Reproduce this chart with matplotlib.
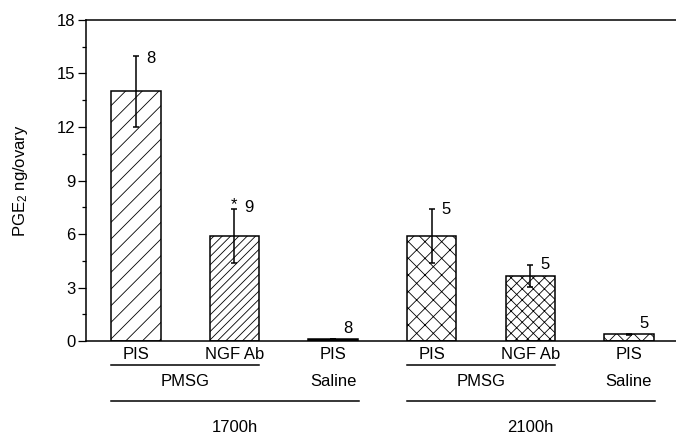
import matplotlib
matplotlib.use("Agg")
import matplotlib.pyplot as plt

plt.rcParams['font.family'] = ['Liberation Sans', 'DejaVu Sans']
plt.rcParams['hatch.linewidth'] = 0.6
plt.rcParams['mathtext.fontset'] = 'custom'
plt.rcParams['mathtext.rm'] = 'Liberation Sans'
plt.rcParams['mathtext.it'] = 'Liberation Sans'

# data
treatments = ["PIS", "NGF Ab", "PIS", "PIS", "NGF Ab", "PIS"]
pge2 = [14.0, 5.9, 0.1, 5.9, 3.65, 0.38]
sem = [2.0, 1.5, 0.0, 1.5, 0.62, 0.04]
n_animals = ["8", "9", "8", "5", "5", "5"]
stars = ["", "*", "", "", "", ""]
groups = ["PMSG", "Saline", "PMSG", "Saline"]
times = ["1700h", "2100h"]

hatches = ['//', '////', '', 'xx', 'xxx', 'xx']
faces = ['white', 'white', 'black', 'white', 'white', 'white']
xpos = list(range(len(pge2)))

fig = plt.figure(figsize=(6.76, 4.34), dpi=100)
ax = fig.add_axes([0.127, 0.214, 0.873, 0.740])

bars = ax.bar(xpos, pge2, width=0.5, color=faces, edgecolor='black', linewidth=1.1)
for b, h in zip(bars, hatches):
    b.set_hatch(h)
ax.errorbar(xpos, pge2, yerr=sem, fmt='none', ecolor='black', elinewidth=1.1,
            capsize=2.2, capthick=1.1)

# sample size labels
dy = [-2, 1, 8, 0, 0, 7]
for i in xpos:
    top = pge2[i] + sem[i]
    ax.annotate(n_animals[i], (i, top), xytext=(10.5, dy[i]), textcoords='offset points',
                ha='center', va='center', fontsize=12)
    if stars[i]:
        ax.annotate(stars[i], (i, top), xytext=(0, 3), textcoords='offset points',
                    ha='center', va='center', fontsize=12)

ax.set_xlim(-0.507, 5.477)
ax.set_ylim(0, 18)
ax.set_yticks(range(0, 19, 3))
ax.set_yticks([1.5 + 3 * k for k in range(6)], minor=True)
ax.tick_params(axis='y', which='major', length=6, width=0.9, labelsize=12, pad=1.5)
ax.tick_params(axis='y', which='minor', length=3, width=0.9)
ax.set_xticks(xpos)
ax.set_xticklabels(treatments, fontsize=12)
ax.tick_params(axis='x', length=0, pad=4)

ax.spines['right'].set_visible(False)
for s in ['left', 'bottom', 'top']:
    ax.spines[s].set_linewidth(1.1)

ax.set_ylabel('PGE$_2$ ng/ovary', fontsize=12)
ax.yaxis.set_label_coords(-0.095, 0.5)

# grouping lines and labels below the axis
tr = ax.get_xaxis_transform()
for g in range(2):
    a = 3 * g
    ax.plot([a - 0.25, a + 1.25], [-0.075, -0.075], color='black', lw=1.1,
            transform=tr, clip_on=False)
    ax.text(a + 0.5, -0.125, groups[2 * g], transform=tr, ha='center', va='center', fontsize=12)
    ax.text(a + 2, -0.125, groups[2 * g + 1], transform=tr, ha='center', va='center', fontsize=12)
    ax.plot([a - 0.25, a + 2.26], [-0.187, -0.187], color='black', lw=1.1,
            transform=tr, clip_on=False)
    ax.text(a + 1.0, -0.268, times[g], transform=tr, ha='center', va='center', fontsize=12)

fig.savefig("out.png", dpi=100)
